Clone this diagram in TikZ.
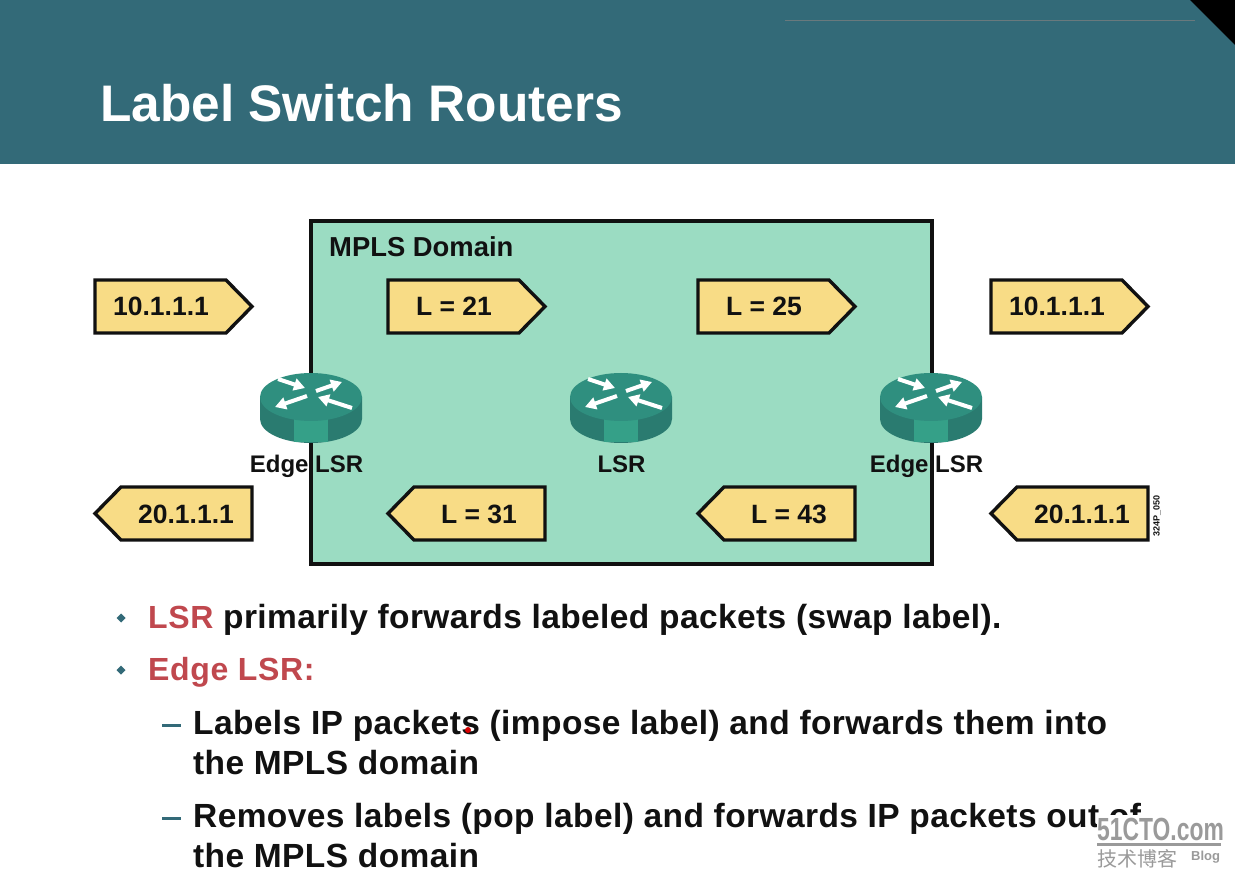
\documentclass[tikz,border=0pt]{standalone}
\usepackage{fontspec}
\setmainfont{Liberation Sans}
\newfontfamily\cjkfont{Noto Sans CJK SC}
\usetikzlibrary{arrows.meta}
\definecolor{bandcol}{HTML}{336A78}
\definecolor{domaincol}{HTML}{9BDCC2}
\definecolor{tagcol}{HTML}{F8DC86}
\definecolor{routertop}{HTML}{2F8F7F}
\definecolor{routerside}{HTML}{2A7B70}
\definecolor{routermid}{HTML}{35A088}
\definecolor{inkcol}{HTML}{111111}
\definecolor{redcol}{HTML}{C0484E}
\definecolor{bulletcol}{HTML}{336A78}
\definecolor{markcol}{HTML}{9A9A9A}
\tikzset{
  tagshape/.style={draw=inkcol,fill=tagcol,line width=3.4pt,line join=miter},
  tagtext/.style={font=\bfseries\fontsize{26.5}{30}\selectfont,text=inkcol,inner sep=0pt,anchor=base},
  routerlabel/.style={font=\bfseries\fontsize{24}{28}\selectfont,text=inkcol,inner sep=0pt,anchor=base},
  bodytext/.style={font=\bfseries\fontsize{33.5}{38}\selectfont\addfontfeature{LetterSpace=1.2},text=inkcol,inner sep=0pt,anchor=base west},
  redtext/.style={font=\bfseries\fontsize{32}{38}\selectfont\addfontfeature{LetterSpace=2},text=redcol,inner sep=0pt,anchor=base west},
  dashmark/.style={fill=bulletcol,minimum width=19pt,minimum height=3pt,inner sep=0pt},
  wedge/.style={draw=white,line width=4pt,-{Triangle[length=11pt,width=12pt,fill=white]}},
  router/.pic={
    \fill[routerside] (-51,0) -- (-51,22) arc[start angle=180,end angle=0,x radius=51,y radius=24] -- (51,0) -- cycle;
    \fill[routermid] (-17,15) rectangle (17,45.5);
    \fill[routertop] (0,0) ellipse[x radius=51,y radius=24];
    \draw[wedge] (-33,-18) -- (-6,-9);
    \draw[wedge] (5,-6) -- (31,-15);
    \draw[wedge] (-4,-1) -- (-36,10);
    \draw[wedge] (41,11) -- (7,0);
  }
}
\newcommand{\righttag}[4]{% x, y, text, name
  \draw[tagshape] (#1,#2) -- ++(131,0) -- ++(26,26.5) -- ++(-26,26.5) -- ++(-131,0) -- cycle;
  \node[tagtext] (#4) at (#1+66,#2+36) {#3};
}
\newcommand{\lefttag}[4]{% x, y, text, name
  \draw[tagshape] (#1,#2+26.5) -- ++(26,-26.5) -- ++(131,0) -- ++(0,53) -- ++(-131,0) -- cycle;
  \node[tagtext] (#4) at (#1+91,#2+36) {#3};
}
\newcommand{\bulletdiamond}[3]{% x, y, name
  \coordinate (#3) at (#1,#2);
  \fill[bulletcol] (#3) ++(-4.5,0) -- ++(4.5,-4.5) -- ++(4.5,4.5) -- ++(-4.5,4.5) -- cycle;
}
\begin{document}
\begin{tikzpicture}[x=1pt,y=-1pt]
  \useasboundingbox (0,0) rectangle (1235,882);
  \fill[white] (0,0) rectangle (1235,882);
  % header band
  \fill[bandcol] (0,0) rectangle (1235,164);
  \draw[gray!70!bandcol,line width=1pt] (785,21) -- (1195,21);
  \fill[black] (1190,0) -- (1235,0) -- (1235,45) -- cycle;
  \node[font=\bfseries\fontsize{51.4}{60}\selectfont,text=white,inner sep=0pt,anchor=base west] (title) at (100,122) {Label Switch Routers};
  % MPLS domain
  \draw[draw=inkcol,fill=domaincol,line width=3.5pt] (311,221) rectangle (932,564);
  \node[font=\bfseries\fontsize{27.4}{32}\selectfont,text=inkcol,inner sep=0pt,anchor=base west] (domain) at (329,257) {MPLS Domain};
  % packets
  \righttag{95}{280}{10.1.1.1}{ipa}
  \righttag{388}{280}{L = 21}{la}
  \righttag{698}{280}{L = 25}{lb}
  \righttag{991}{280}{10.1.1.1}{ipb}
  \lefttag{95}{487}{20.1.1.1}{ipc}
  \lefttag{388}{487}{L = 31}{lc}
  \lefttag{698}{487}{L = 43}{ld}
  \lefttag{991}{487}{20.1.1.1}{ipd}
  % routers
  \pic (r1) at (311,397) {router};
  \pic (r2) at (621,397) {router};
  \pic (r3) at (931,397) {router};
  \node[routerlabel] (e1) at (306.5,473) {Edge LSR};
  \node[routerlabel] (e2) at (621.5,473) {LSR};
  \node[routerlabel] (e3) at (926.5,473) {Edge LSR};
  \node[rotate=90,font=\bfseries\fontsize{9}{10}\selectfont,text=inkcol,inner sep=0pt] (code) at (1157,516) {324P\_050};
  % bullet list
  \bulletdiamond{121}{618}{b1}
  \node[redtext] (t1a) at (148,628) {LSR};
  \node[bodytext] (t1b) at (223,628) {primarily forwards labeled packets (swap label).};
  \bulletdiamond{121}{670}{b2}
  \node[redtext] (t2) at (148,680) {Edge LSR:};
  \node[dashmark] (d1) at (171,725) {};
  \node[bodytext] (t3) at (193,734) {Labels IP packets (impose label) and forwards them into};
  \node[bodytext] (t4) at (193,774) {the MPLS domain};
  \node[dashmark] (d2) at (171,818) {};
  \node[bodytext] (t5) at (193,827) {Removes labels (pop label) and forwards IP packets out of};
  \node[bodytext] (t6) at (193,867) {the MPLS domain};
  % pointer dot
  \fill[red!85!black] (468,730) circle (3);
  % site mark, knocked out of the last bullet line
  \fill[white] (1097,815) rectangle (1235,848);
  \node[font=\bfseries\fontsize{32}{34}\selectfont,text=markcol,inner sep=0pt,anchor=base west,xscale=0.715] (site) at (1097,840) {51CTO.com};
  \fill[markcol] (1097,843) rectangle (1221,846);
  \node[font=\cjkfont\fontsize{20}{24}\selectfont,text=markcol,inner sep=0pt,anchor=base west] (cn) at (1097,866) {技术博客};
  \node[font=\bfseries\fontsize{13}{15}\selectfont,text=markcol,inner sep=0pt,anchor=base west] (blog) at (1191,860) {Blog};
\end{tikzpicture}
\end{document}
